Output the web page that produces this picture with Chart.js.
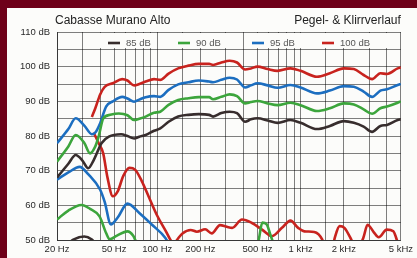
<!DOCTYPE html>
<html lang="de">
<head>
<meta charset="UTF-8">
<title>Cabasse Murano Alto</title>
<style>
    body {
        margin: 0;
        width: 417px;
        height: 258px;
        background: #6e0019;
        overflow: hidden;
        font-family: "Liberation Sans", Arial, sans-serif;
    }
    #chart {
        position: absolute;
        left: 7px;
        top: 8px;
        background: #fcfcfa;
    }
</style>
<script src="https://cdn.jsdelivr.net/npm/chart.js"></script>
</head>
<body>
<canvas id="chart" width="410" height="250"></canvas>
<script>
    // frequencies shared by all four response curves above 100 Hz
    const hiFreq = [105, 120, 140, 165, 195, 230, 245, 280, 320, 360, 410, 450, 500, 590, 690, 850, 1000, 1300, 1600, 2000, 2350, 2750, 3150, 3600, 4000, 4750, 5000];

    // 85 dB
    const lowFreq85 = [20, 24, 27, 30, 33, 36, 41, 46, 56, 62, 69, 75, 83, 95];
    const low85 = [68, 72, 74.5, 73, 70.7, 73, 78, 79.8, 80.5, 80, 79.3, 79.8, 80.3, 81.5];
    const hi85 = [82.2, 84.1, 85.6, 86.1, 86.3, 86.1, 85.6, 86.6, 87, 86.6, 84.1, 84.8, 85.1, 84.5, 83.8, 84.6, 83.8, 82, 82.9, 84.3, 83.8, 82.7, 81.2, 82.9, 83.2, 84.6, 84.8];

    // 90 dB
    const lowFreq90 = [20, 24, 27, 31, 34, 37, 39, 42, 47, 54, 62, 69, 75, 83, 95];
    const low90 = [72.6, 77, 80.3, 78, 75, 77, 79.8, 85, 86.1, 86.5, 86, 84.6, 85, 85.6, 86.7];
    const hi90 = [87, 89, 90.4, 90.9, 91.2, 91.2, 90.6, 91.3, 92, 91.5, 89.4, 89.8, 90.1, 89.4, 88.9, 89.6, 88.9, 87.2, 88, 89.4, 89.1, 87.7, 86.4, 88, 88.5, 89.6, 90];

    // 95 dB
    const lowFreq95 = [20, 24, 27, 31, 35, 37, 40, 44, 49, 57, 62, 69, 75, 83, 95];
    const low95 = [77.9, 82, 85.1, 83, 80.5, 81, 83.7, 88.5, 90, 91.3, 90.8, 89.9, 90.5, 91.2, 91.5];
    const hi95 = [91.3, 93.3, 94.9, 95.5, 96, 95.7, 95.5, 96.2, 96.8, 96.3, 94, 94.6, 95.2, 94.6, 93.9, 94.7, 94, 92.3, 93.1, 94.4, 94.2, 92.8, 91.3, 93.1, 93.5, 94.7, 95];

    // 100 dB
    const lowFreq100 = [35, 37, 40, 43, 49, 57, 62, 69, 75, 83, 95];
    const low100 = [85.5, 88, 92, 94.2, 95.2, 96.4, 96, 94.6, 95, 95.7, 96.4];
    const hi100 = [96.2, 98, 99.5, 100.3, 100.8, 100.8, 100.5, 101.2, 101.7, 101.2, 99.2, 99.5, 100, 99.3, 98.8, 99.5, 98.8, 97.1, 98.1, 99.5, 99.3, 97.6, 96.4, 98.1, 97.9, 99.5, 99.8];

    // Klirr (distortion)
    const distFreq85 = [24, 26, 31, 35, 37];
    const dist85 = [49, 50.1, 51, 50.1, 49];
    const distFreq90 = [20, 24, 29.6, 34, 39.6, 44, 46.5, 52, 62, 68, 72];
    const dist90 = [55.9, 58.5, 60.1, 59, 56.8, 52, 50.2, 51.2, 52.5, 51.2, 49];
    const distFreq90b = [490, 510, 540, 580, 610, 640];
    const dist90b = [48, 50, 55, 54.5, 52, 49.5];
    const distFreq95 = [20, 24, 28.8, 33, 40, 43, 47.5, 53, 62, 75, 92, 114, 120];
    const dist95 = [67.4, 69.5, 71.1, 69, 64.5, 61, 54.5, 56.5, 60.5, 57.8, 54.4, 50.6, 49];
    const distFreq100 = [36, 39, 42, 45, 49, 53, 58, 64, 70, 78, 88, 100, 115, 126, 130, 140, 150, 171, 189, 216, 240, 274, 306, 333, 390, 458, 538, 631, 741, 849, 961, 1061, 1243, 1416, 1500, 1650, 1730, 1870, 2020, 2256, 2450, 2735, 2930, 3230, 3500, 3990, 4430, 4680, 4900];
    const dist100 = [81, 78, 75, 68, 62.6, 64, 68.5, 70.8, 70.3, 67, 62.1, 57, 52.5, 49.5, 49, 50.5, 51.9, 52.9, 52.4, 53.1, 51.9, 54.3, 53.8, 53.5, 55.9, 54.9, 53, 51.1, 53.5, 55.6, 53.5, 52.5, 52.3, 50.1, 47, 47, 50.6, 54, 53.5, 50.1, 47, 50.6, 54.4, 52.3, 50.8, 53, 52.5, 50.1, 47];

    const xLabels = {20: '20 Hz', 50: '50 Hz', 100: '100 Hz', 200: '200 Hz', 500: '500 Hz', 1000: '1 kHz', 2000: '2 kHz', 5000: '5 kHz'};

    const colBlack = 'rgb(55,45,45)';
    const colGreen = 'rgb(60,165,60)';
    const colBlue = 'rgb(28,110,192)';
    const colRed = 'rgb(200,35,30)';
    const gridCol = 'rgba(0,0,0,0.5)';

    function pts(freqs, vals) {
        return freqs.map((f, i) => ({ x: f, y: vals[i] }));
    }

    function series(freqs, vals, color) {
        return {
            data: pts(freqs, vals),
            borderColor: color,
            borderWidth: 2.6,
            pointRadius: 0,
            fill: false,
            cubicInterpolationMode: 'monotone'
        };
    }

    const legendItems = [
        { text: '85 dB', color: colBlack, line: 101, box: [90, 150] },
        { text: '90 dB', color: colGreen, line: 171, box: [152, 236] },
        { text: '95 dB', color: colBlue, line: 245, box: [240, 296] },
        { text: '100 dB', color: colRed, line: 315, box: [300, 381] }
    ];

    const decorPlugin = {
        id: 'decor',
        afterDraw(chart) {
            const ctx = chart.ctx;
            const area = chart.chartArea;
            ctx.save();
            ctx.fillStyle = '#222';
            ctx.font = '12px "Liberation Sans", Arial, sans-serif';
            ctx.textBaseline = 'middle';
            ctx.textAlign = 'left';
            ctx.fillText('Cabasse Murano Alto', 48, 13);
            ctx.textAlign = 'right';
            ctx.fillText('Pegel- & Klirrverlauf', area.right, 13);

            // legend inside top of plot
            const y = area.top + 11;
            ctx.font = '9.5px "Liberation Sans", Arial, sans-serif';
            ctx.textAlign = 'left';
            legendItems.forEach(it => {
                ctx.fillStyle = '#fcfcfa';
                ctx.fillRect(it.box[0], area.top + 1, it.box[1] - it.box[0], 15);
                ctx.strokeStyle = it.color;
                ctx.lineWidth = 2.6;
                ctx.beginPath();
                ctx.moveTo(it.line, y);
                ctx.lineTo(it.line + 12, y);
                ctx.stroke();
                ctx.fillStyle = '#555';
                ctx.fillText(it.text, it.line + 18, y + 0.5);
            });
            ctx.restore();
        }
    };

    new Chart(document.getElementById('chart'), {
        type: 'line',
        data: {
            datasets: [
                series(lowFreq85.concat(hiFreq), low85.concat(hi85), colBlack),
                series(lowFreq90.concat(hiFreq), low90.concat(hi90), colGreen),
                series(lowFreq95.concat(hiFreq), low95.concat(hi95), colBlue),
                series(lowFreq100.concat(hiFreq), low100.concat(hi100), colRed),
                series(distFreq85, dist85, colBlack),
                series(distFreq90, dist90, colGreen),
                series(distFreq90b, dist90b, colGreen),
                series(distFreq95, dist95, colBlue),
                series(distFreq100, dist100, colRed)
            ]
        },
        options: {
            responsive: false,
            animation: false,
            layout: { padding: { top: 24, right: 13, left: 0, bottom: 0 } },
            plugins: { legend: { display: false }, tooltip: { enabled: false } },
            scales: {
                x: {
                    type: 'logarithmic',
                    min: 20,
                    max: 5000,
                    afterFit(scale) { scale.height = 18; },
                    grid: { color: gridCol, lineWidth: 1, drawTicks: false },
                    border: { color: 'rgba(0,0,0,0.55)' },
                    ticks: {
                        autoSkip: false,
                        maxRotation: 0,
                        padding: 4,
                        color: '#2a2a2a',
                        font: { family: '"Liberation Sans", Arial, sans-serif', size: 9.5 },
                        callback: v => xLabels[v] || ''
                    }
                },
                y: {
                    min: 50,
                    max: 110,
                    afterFit(scale) { scale.width = 50; },
                    grid: { color: gridCol, lineWidth: 1, drawTicks: false },
                    border: { color: 'rgba(0,0,0,0.55)' },
                    ticks: {
                        stepSize: 5,
                        padding: 7,
                        color: '#2a2a2a',
                        font: { family: '"Liberation Sans", Arial, sans-serif', size: 9.5 },
                        callback: v => (v % 10 === 0 ? v + ' dB' : '')
                    }
                }
            }
        },
        plugins: [decorPlugin]
    });
</script>
</body>
</html>
